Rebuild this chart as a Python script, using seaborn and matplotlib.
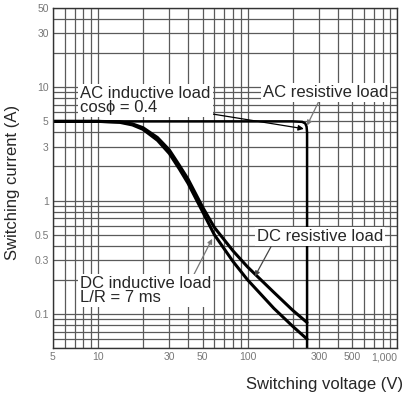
import numpy as np
import pandas as pd
import seaborn as sns
import matplotlib.pyplot as plt
from matplotlib.ticker import FixedLocator, NullFormatter

# values
ac_voltage = [5, 200, 232, 243, 248, 250, 250]
ac_current = [5, 5, 4.95, 4.8, 4.5, 4.0, 0.05]

dc_res_voltage = [5, 10, 14, 17, 20, 25, 30, 35, 40, 50, 60, 80, 100, 150, 200, 250]
dc_res_current = [5, 5, 4.95, 4.75, 4.4, 3.6, 2.8, 2.05, 1.55, 0.88, 0.58, 0.36, 0.26, 0.155, 0.108, 0.084]

dc_ind_voltage = [5, 10, 14, 17, 20, 25, 30, 35, 40, 50, 60, 80, 100, 150, 200, 250]
dc_ind_current = [5, 5, 4.9, 4.65, 4.25, 3.4, 2.6, 1.9, 1.42, 0.8, 0.5, 0.29, 0.2, 0.112, 0.078, 0.06]

x_ticks = [5, 10, 30, 50, 100, 300, 500, 1000]
x_labels = ["5", "10", "30", "50", "100", "300", "500", "1,000"]
y_ticks = [0.1, 0.3, 0.5, 1, 3, 5, 10, 30, 50]
y_labels = ["0.1", "0.3", "0.5", "1", "3", "5", "10", "30", "50"]

sns.set_style("white")
plt.rcParams['font.family'] = ['Liberation Sans', 'DejaVu Sans']

fig = plt.figure(figsize=(4.04, 4.01), dpi=100)
ax = fig.add_axes([0.131, 0.132, 0.852, 0.848])
ax.set_xscale("log")
ax.set_yscale("log")
ax.set_xlim(5, 1000)
ax.set_ylim(0.05, 50)

# dense log grid
minor_x = [v * d for d in [1, 10, 100] for v in range(1, 10) if 5 <= v * d <= 1000]
minor_y = [v * d for d in [0.01, 0.1, 1, 10] for v in range(1, 10) if 0.05 <= v * d <= 50]
ax.xaxis.set_minor_locator(FixedLocator(minor_x))
ax.yaxis.set_minor_locator(FixedLocator(minor_y))
ax.xaxis.set_minor_formatter(NullFormatter())
ax.yaxis.set_minor_formatter(NullFormatter())
ax.grid(True, which="both", color="#5a5a5a", lw=0.9)
ax.set_axisbelow(True)

sns.lineplot(x=dc_res_voltage, y=dc_res_current, ax=ax, color="black", lw=2.2,
             sort=False, estimator=None)
sns.lineplot(x=dc_ind_voltage, y=dc_ind_current, ax=ax, color="black", lw=2.2,
             sort=False, estimator=None)
sns.lineplot(x=ac_voltage, y=ac_current, ax=ax, color="black", lw=1.8,
             sort=False, estimator=None)

ax.set_xticks(x_ticks)
ax.set_xticklabels(x_labels)
ax.set_yticks(y_ticks)
ax.set_yticklabels(y_labels)
ax.tick_params(which="both", length=0, labelsize=7.5, labelcolor="#777777", pad=3)
ax.get_xticklabels()[-1].set_ha("right")

for s in ax.spines.values():
    s.set_color("#333333")
    s.set_linewidth(1.0)

box = dict(facecolor="white", edgecolor="none", pad=1.5)
ax.annotate("AC inductive load\ncos\u03d5 = 0.4", xy=(238, 4.3), xytext=(7.6, 7.6),
            fontsize=12, linespacing=0.92, va="center", bbox=box,
            arrowprops=dict(arrowstyle="-|>", color="black", lw=0.9, shrinkA=0, shrinkB=0,
                            mutation_scale=8, relpos=(0.8, 0.2)))
ax.annotate("AC resistive load", xy=(250, 4.6), xytext=(127, 9.0),
            fontsize=12, va="center", bbox=box,
            arrowprops=dict(arrowstyle="-|>", color="#777777", lw=0.9, shrinkA=0, shrinkB=0,
                            mutation_scale=7, relpos=(0.45, 0.0)))
ax.annotate("DC resistive load", xy=(112, 0.215), xytext=(116, 0.48),
            fontsize=12, va="center", bbox=box,
            arrowprops=dict(arrowstyle="-|>", color="#444444", lw=0.9, shrinkA=0, shrinkB=0,
                            mutation_scale=7, relpos=(0.12, 0.0)))
ax.annotate("DC inductive load\nL/R = 7 ms", xy=(58, 0.46), xytext=(7.6, 0.16),
            fontsize=12, linespacing=0.92, va="center", bbox=box,
            arrowprops=dict(arrowstyle="-|>", color="#777777", lw=0.9, shrinkA=0, shrinkB=0,
                            mutation_scale=7, relpos=(0.86, 1.0)))

fig.text(0.998, 0.04, "Switching voltage (V)", ha="right", va="center", fontsize=12)
fig.text(0.032, 0.545, "Switching current (A)", ha="center", va="center", rotation=90, fontsize=12)

fig.savefig("out.png", dpi=100)
